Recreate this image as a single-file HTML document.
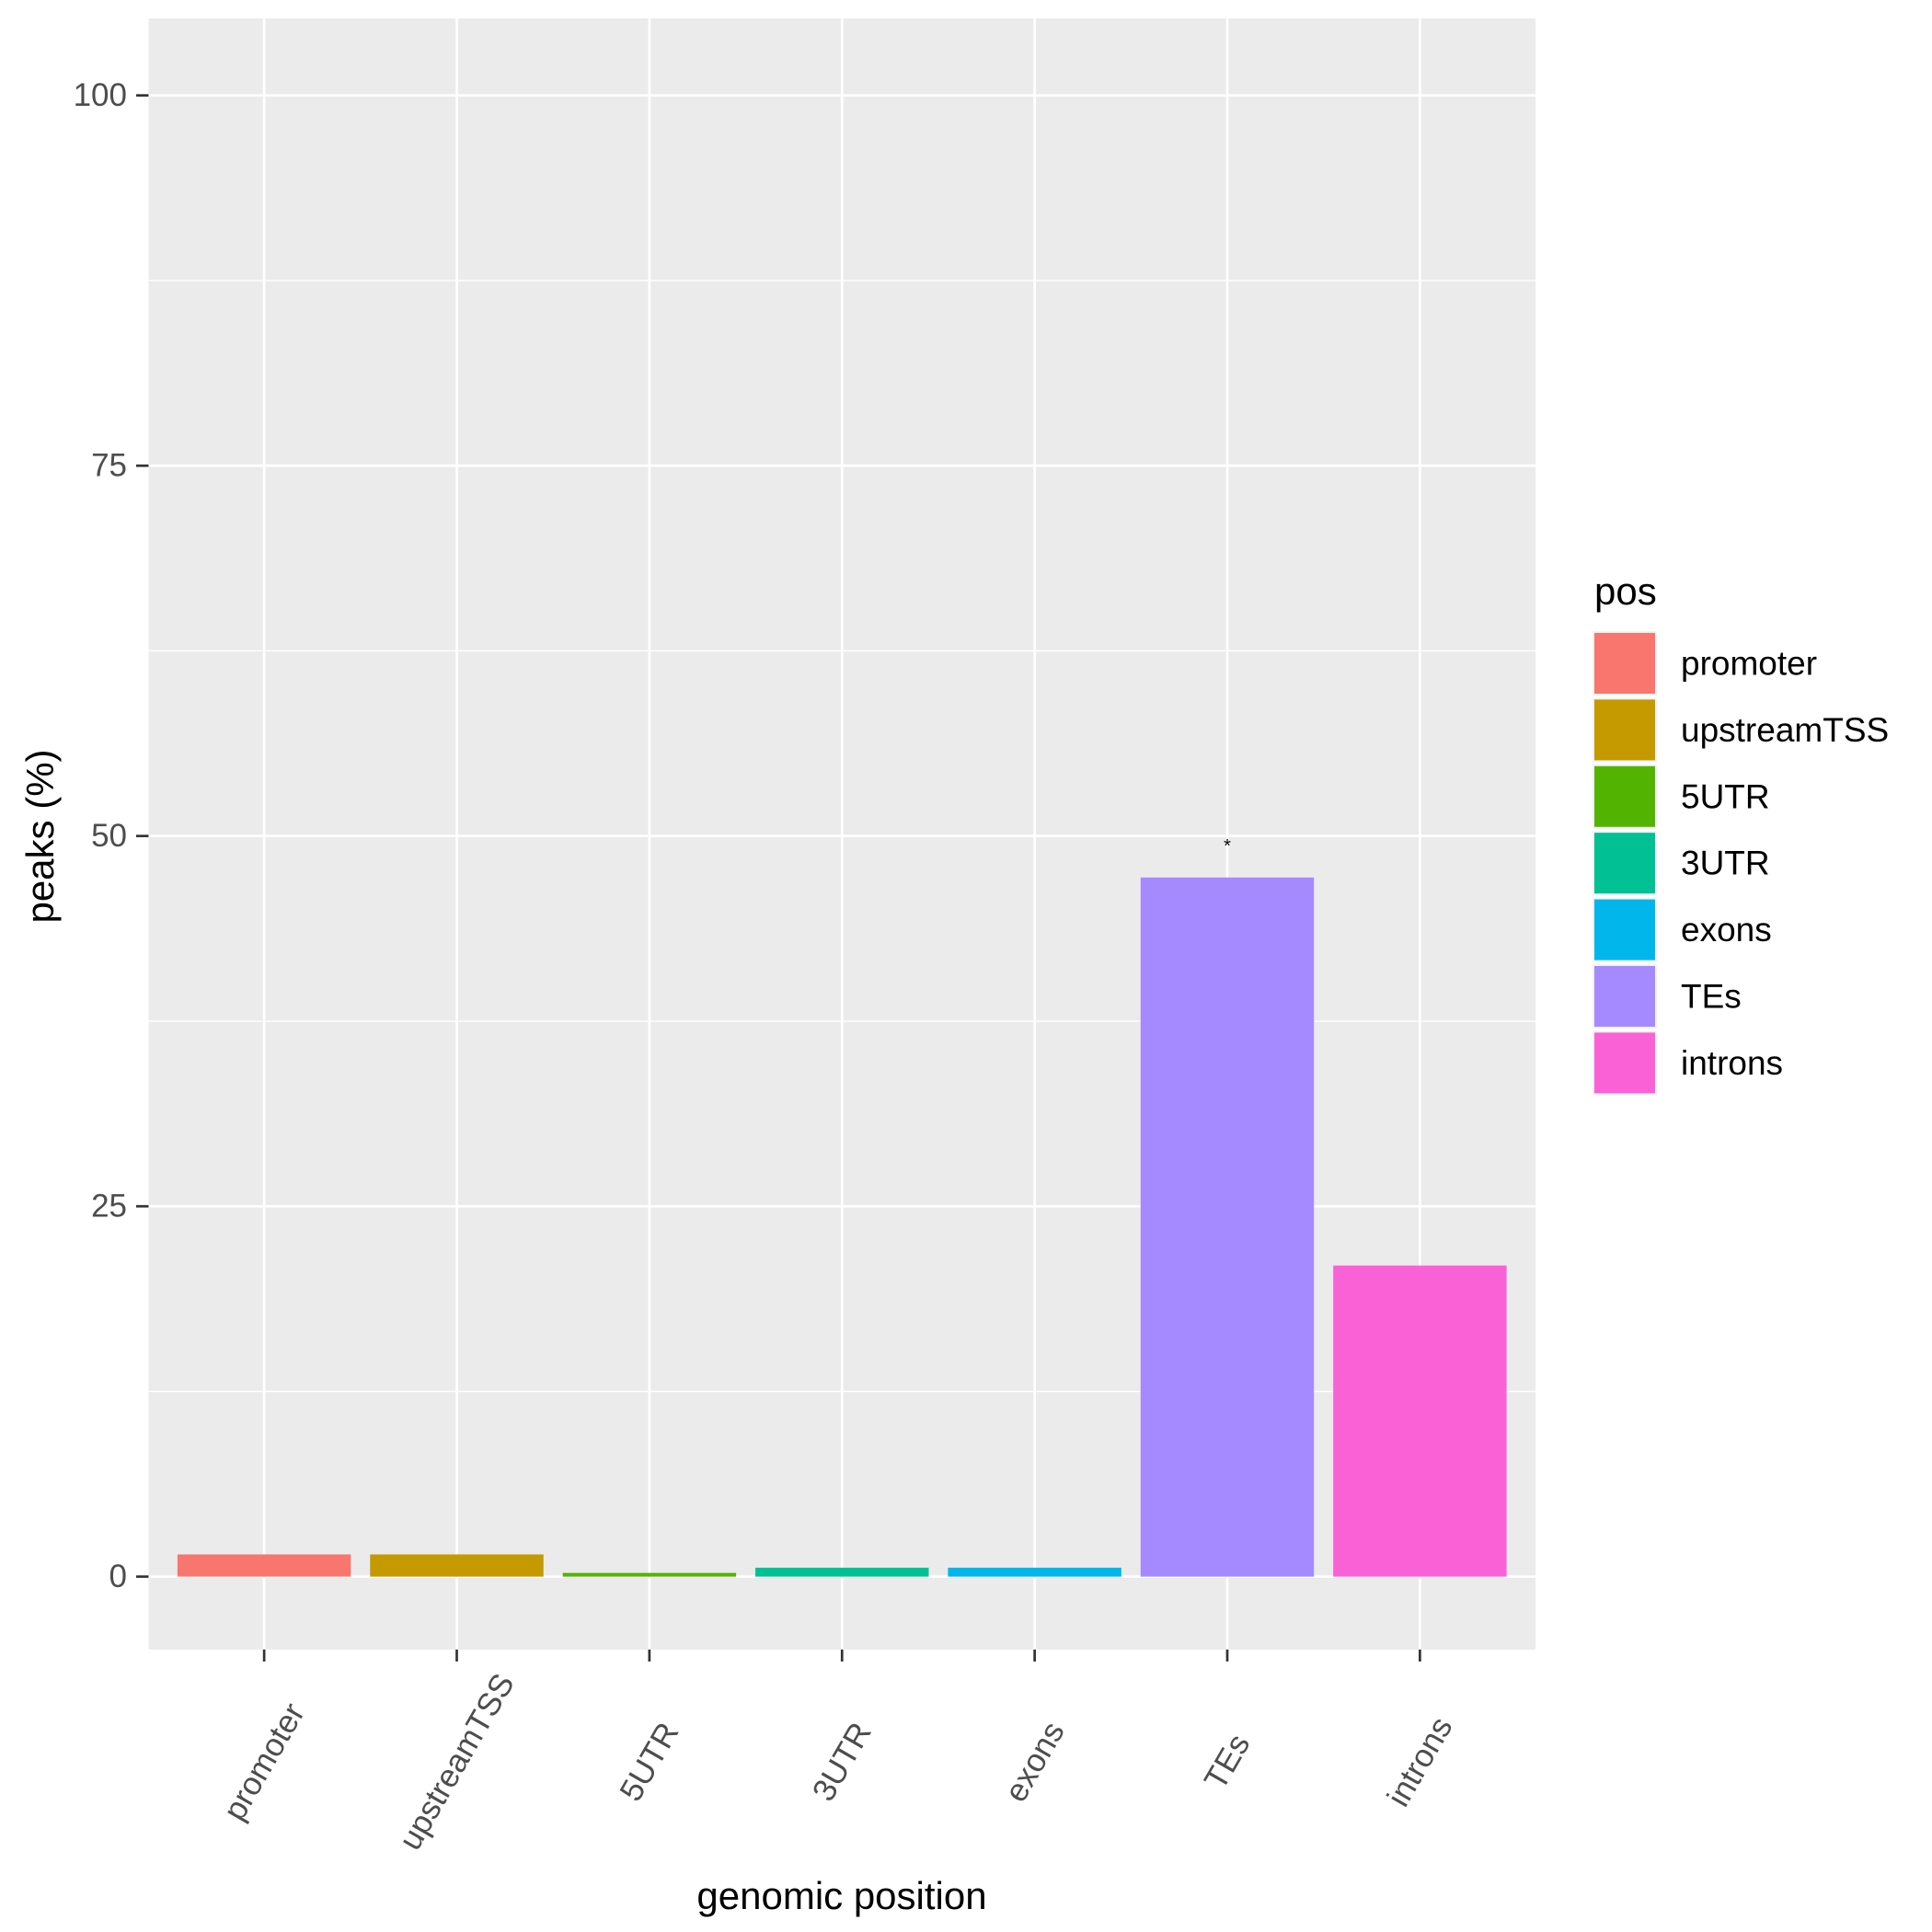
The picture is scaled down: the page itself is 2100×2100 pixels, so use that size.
<!DOCTYPE html>
<html><head><meta charset="utf-8"><style>
html,body{margin:0;padding:0;background:#fff}
svg{display:block;font-family:"Liberation Sans",Arial,sans-serif}
</style></head><body>
<svg id="chart" width="2100" height="2100" viewBox="0 0 2100 2100" xmlns="http://www.w3.org/2000/svg">
<rect x="161.5" y="20" width="1507.5" height="1773" fill="#ebebeb"/>
<g id="grid"></g><g id="bars"></g><g id="axes"></g><g id="legend"></g>
<text x="47" y="909" transform="rotate(-90 47 909)" text-anchor="middle" dominant-baseline="middle" font-size="42" fill="#000">peaks (%)</text>
<text x="915" y="2075" text-anchor="middle" font-size="42" fill="#000">genomic position</text>
</svg>
<script>
const categories = ["promoter","upstreamTSS","5UTR","3UTR","exons","TEs","introns"];
const values = [1.5, 1.5, 0.25, 0.6, 0.6, 47.2, 21.0];
const colors = ["#F8766D","#C49A00","#53B400","#00C094","#00B6EB","#A58AFF","#FB61D7"];
const yTicks = [0, 25, 50, 75, 100];
const yMinor = [12.5, 37.5, 62.5, 87.5];
const annotations = [{cat:"TEs", label:"*", value:49.3}];

const NS = "http://www.w3.org/2000/svg";
const px0 = 161.5, px1 = 1669, py0 = 20, py1 = 1793;
const y = v => 1713.7 - v * 16.1;
const step = (px1 - px0) / (categories.length + 0.2);
const x = i => px0 + step * (0.6 + i);
function mk(tag, attrs, parent, txt){
  const e = document.createElementNS(NS, tag);
  for (const k in attrs) e.setAttribute(k, attrs[k]);
  if (txt !== undefined) e.textContent = txt;
  parent.appendChild(e); return e;
}
const grid = document.getElementById("grid"), bars = document.getElementById("bars"),
      axes = document.getElementById("axes"), legend = document.getElementById("legend");
yMinor.forEach(v => {
  const l = mk("line", {x1:px0, x2:px1, y1:y(v), y2:y(v), stroke:"#fff", "stroke-width":1.4}, grid);
  
  
});
yTicks.forEach(v => {
  const l = mk("line", {x1:px0, x2:px1, y1:y(v), y2:y(v), stroke:"#fff", "stroke-width":2.7}, grid);
  
  
  const t = mk("line", {x1:148, x2:px0, y1:y(v), y2:y(v), stroke:"#333", "stroke-width":2.7}, axes);
  
  
  const lb = mk("text", {x:138, y:y(v), "text-anchor":"end", "dominant-baseline":"central", "font-size":35, fill:"#4d4d4d"}, axes, String(v));
  
  
});
categories.forEach((c, i) => {
  const cx = x(i);
  const g = mk("line", {x1:cx, x2:cx, y1:py0, y2:py1, stroke:"#fff", "stroke-width":2.7}, grid);
  
  
  const w = step * 0.9, top = y(values[i]), base = y(0);
  const b = mk("rect", {x:cx - w/2, y:top, width:w, height:base - top, fill:colors[i]}, bars);
  
  
  const t = mk("line", {x1:cx, x2:cx, y1:py1, y2:py1 + 13, stroke:"#333", "stroke-width":2.7}, axes);
  
  
  const ly = 1915;
  const lb = mk("text", {x:cx, y:ly, "text-anchor":"middle", "dominant-baseline":"central", "font-size":35, fill:"#4d4d4d", transform:`rotate(-60 ${cx} ${ly})`}, axes, c);
  
  
});
annotations.forEach(a => {
  const i = categories.indexOf(a.cat);
  const t = mk("text", {x:x(i), y:y(a.value), "text-anchor":"middle", "dominant-baseline":"central", "font-size":20, fill:"#000"}, bars, a.label);
  
  
});
const lt = mk("text", {x:1733, y:657, "font-size":42, fill:"#000"}, legend, "pos");


categories.forEach((c, i) => {
  const top = 688 + i * 72.4;
  const bg = mk("rect", {x:1731, y:top - 2, width:70, height:70, fill:"#f2f2f2"}, legend);
  
  
  const k = mk("rect", {x:1733, y:top, width:66, height:66, fill:colors[i]}, legend);
  
  
  const lb = mk("text", {x:1827, y:top + 33, "dominant-baseline":"central", "font-size":37, fill:"#000"}, legend, c);
  
  
});
</script>
</body></html>
